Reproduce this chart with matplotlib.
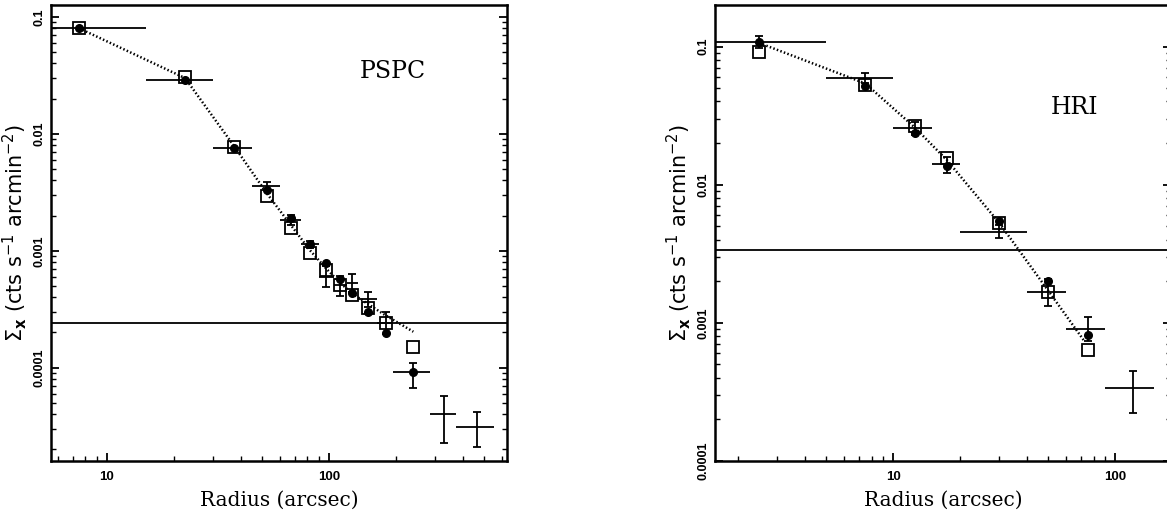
import numpy as np
import matplotlib
matplotlib.use("Agg")
from matplotlib import pyplot as plt
from matplotlib.ticker import LogLocator, FixedLocator, FixedFormatter, NullFormatter

# PSPC profile (left)
pspc_edges = [0, 15, 30, 45, 60, 75, 90, 105, 120, 135, 165, 195, 285, 375, 555]
pspc_r = [7.5, 22.5, 37.5, 52.5, 67.5, 82.5, 97.5, 112.5, 127.5, 150, 180, 240, 330, 465]
pspc_cross = [0.0800, 0.0289, 0.00762, 0.00360, 0.00183, 0.00114, 0.000600, 0.000509,
              0.000527, 0.000385, 0.000241, 9.25e-5, 4.02e-5, 3.13e-5]
pspc_cross_hi = [0.0800, 0.0289, 0.00762, 0.00390, 0.00202, 0.00122, 0.000741, 0.000609,
                 0.000630, 0.000447, 0.000301, 0.000110, 5.76e-5, 4.15e-5]
pspc_cross_lo = [0.0800, 0.0289, 0.00762, 0.00333, 0.00166, 0.00106, 0.000488, 0.000410,
                 0.000442, 0.000330, 0.000194, 6.75e-5, 2.28e-5, 2.11e-5]
pspc_circle = [0.0800, 0.0289, 0.00762, 0.00330, 0.00190, 0.00114, 0.000782, 0.000571,
               0.000433, 0.000298, 0.000197, 9.25e-5]
pspc_square = [0.0800, 0.0305, 0.00778, 0.00294, 0.00158, 0.000953, 0.000686, 0.000509,
               0.000419, 0.000322, 0.000243, 0.0001497]
pspc_model_r = [7.5, 22.5, 37.5, 52.5, 67.5, 82.5, 97.5, 112.5, 127.5, 150, 180, 240]
pspc_model = [0.080, 0.030, 0.0078, 0.0031, 0.00165, 0.00100, 0.00070, 0.00053,
              0.00043, 0.00035, 0.00028, 0.000203]
pspc_bkg = 2.4e-4

# HRI profile (right)
hri_edges = [0, 5, 10, 15, 20, 40, 60, 90, 150]
hri_r = [2.5, 7.5, 12.5, 17.5, 30, 50, 75, 120]
hri_cross = [0.108, 0.0594, 0.0256, 0.01406, 0.00457, 0.001665, 0.000904, 0.000336]
hri_cross_hi = [0.119, 0.0646, 0.0286, 0.01596, 0.00510, 0.00208, 0.00111, 0.000449]
hri_cross_lo = [0.098, 0.0546, 0.0229, 0.01209, 0.00409, 0.00133, 0.000737, 0.000224]
hri_circle = [0.108, 0.0518, 0.0236, 0.01372, 0.00546, 0.00202, 0.000818]
hri_square = [0.0917, 0.0527, 0.0266, 0.0155, 0.00531, 0.00168, 0.000637]
hri_model_r = [2.5, 7.5, 12.5, 17.5, 30, 50, 72]
hri_model = [0.106, 0.054, 0.026, 0.0150, 0.0053, 0.0017, 0.00075]
hri_bkg = 3.37e-3

W, H = 1167, 519
fig = plt.figure(figsize=(W / 100, H / 100), dpi=100)

def px_axes(x0, y0, x1, y1):
    # pixel box (left, top, right, bottom) -> figure fraction
    return fig.add_axes([x0 / W, 1 - y1 / H, (x1 - x0) / W, (y1 - y0) / H])

ax1 = px_axes(51, 5, 507, 461)
ax2 = px_axes(715, 5, 1171, 461)

ylab = r'$\Sigma_{\mathbf{x}}$ (cts s$^{-1}$ arcmin$^{-2}$)'


def draw(ax, r, edges, cross, c_hi, c_lo, circ, sq, mr, model, bkg, name, tpos):
    r = np.array(r)
    edges = np.array(edges, dtype=float)
    cross = np.array(cross)
    xlo = r - edges[:-1]
    xhi = edges[1:] - r
    ax.axhline(bkg, color='k', lw=1.3, zorder=1)
    ax.errorbar(r, cross, xerr=[xlo, xhi], fmt='none', ecolor='k', elinewidth=1.3,
                capsize=0, zorder=2)
    ax.errorbar(r, cross, yerr=[cross - np.array(c_lo), np.array(c_hi) - cross],
                fmt='none', ecolor='k', elinewidth=1.3, capsize=3, capthick=1.3, zorder=2)
    n = len(sq)
    ax.plot(r[:n], sq, 's', ms=8.5, mfc='none', mec='k', mew=1.3, zorder=3)
    ax.plot(r[:len(circ)], circ, 'o', ms=5.5, color='k', zorder=4)
    ax.plot(mr, model, color='k', lw=1.8, ls=(0, (0.6, 0.9)), zorder=5)
    ax.text(tpos[0], tpos[1], name, transform=ax.transAxes, fontsize=17,
            family='DejaVu Serif', ha='center', va='center')

    ax.set_xscale('log', nonpositive='clip')
    ax.set_yscale('log', nonpositive='clip')
    ax.tick_params(which='both', direction='in', top=False, right=True)
    ax.tick_params(which='major', length=6, width=1.3)
    ax.tick_params(which='minor', length=3.5, width=1.0)
    ax.tick_params(axis='y', pad=4)
    ax.tick_params(axis='x', pad=7)
    ax.xaxis.set_major_locator(FixedLocator([10, 100]))
    ax.xaxis.set_major_formatter(FixedFormatter(['10', '100']))
    ax.xaxis.set_minor_locator(LogLocator(10, subs=np.arange(2, 10), numticks=20))
    ax.xaxis.set_minor_formatter(NullFormatter())
    ax.yaxis.set_major_locator(FixedLocator([1e-4, 1e-3, 1e-2, 1e-1]))
    ax.yaxis.set_major_formatter(FixedFormatter(['0.0001', '0.001', '0.01', '0.1']))
    ax.yaxis.set_minor_locator(LogLocator(10, subs=np.arange(2, 10), numticks=20))
    ax.yaxis.set_minor_formatter(NullFormatter())
    for lab in ax.get_yticklabels():
        lab.set_rotation(90)
        lab.set_va('center')
        lab.set_fontweight('bold')
        lab.set_fontsize(9)
        lab.set_family('Liberation Sans')
    for lab in ax.get_xticklabels():
        lab.set_fontweight('bold')
        lab.set_fontsize(9.5)
        lab.set_family('Liberation Sans')
    for s in ax.spines.values():
        s.set_linewidth(1.8)
    ax.set_xlabel('Radius (arcsec)', fontsize=14.5, family='DejaVu Serif', labelpad=6)
    ax.set_ylabel(ylab, fontsize=15, family='DejaVu Sans', labelpad=3)


draw(ax1, pspc_r, pspc_edges, pspc_cross, pspc_cross_hi, pspc_cross_lo, pspc_circle,
     pspc_square, pspc_model_r, pspc_model, pspc_bkg, 'PSPC', (0.75, 0.855))
ax1.set_xlim(5.6, 634)
ax1.set_ylim(1.59e-5, 0.1266)

draw(ax2, hri_r, hri_edges, hri_cross, hri_cross_hi, hri_cross_lo, hri_circle,
     hri_square, hri_model_r, hri_model, hri_bkg, 'HRI', (0.789, 0.775))
ax2.set_xlim(1.58, 178)
ax2.set_ylim(1e-4, 0.1997)

fig.savefig('out.png', dpi=100)
